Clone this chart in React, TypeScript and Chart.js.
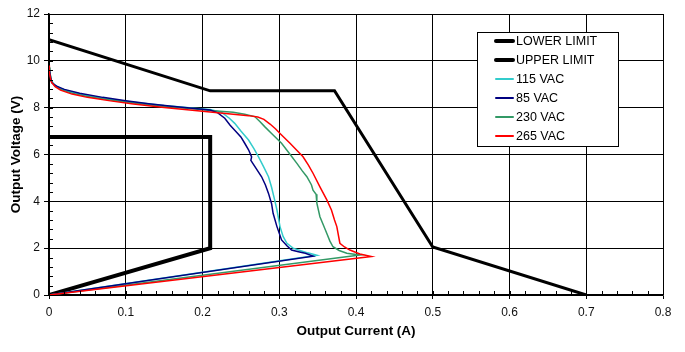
import React, { useEffect, useRef } from "react";
import { Chart, registerables } from "chart.js";

Chart.register(...registerables);

// Limit envelopes
const lowerLimitX = [0, 0.21, 0.21, 0];
const lowerLimitY = [0, 2.0, 6.75, 6.75];
const upperLimitX = [0, 0.21, 0.372, 0.5, 0.7];
const upperLimitY = [10.9, 8.72, 8.72, 2.05, 0];

// Measured curves
const vac115X = [0, 0.001, 0.003, 0.008, 0.015, 0.03, 0.05, 0.08, 0.11, 0.15, 0.19, 0.21, 0.225, 0.235, 0.242, 0.25, 0.26, 0.267, 0.273, 0.28, 0.286, 0.29, 0.294, 0.297, 0.301, 0.305, 0.31, 0.318, 0.325, 0.337, 0.349, 0];
const vac115Y = [9.72, 9.55, 9.15, 8.95, 8.82, 8.66, 8.52, 8.36, 8.23, 8.09, 7.98, 7.92, 7.8, 7.55, 7.33, 7.0, 6.62, 6.25, 5.9, 5.45, 5.05, 4.6, 4.06, 3.63, 2.92, 2.5, 2.21, 2.0, 1.92, 1.8, 1.7, 0];

const vac85X = [0, 0.002, 0.004, 0.01, 0.02, 0.04, 0.07, 0.1, 0.13, 0.16, 0.19, 0.21, 0.22, 0.229, 0.236, 0.242, 0.25, 0.255, 0.26, 0.264, 0.263, 0.27, 0.277, 0.282, 0.286, 0.29, 0.292, 0.297, 0.303, 0.31, 0.316, 0.325, 0.334, 0.344, 0];
const vac85Y = [9.72, 9.3, 9.05, 8.92, 8.78, 8.62, 8.44, 8.3, 8.17, 8.06, 7.96, 7.9, 7.78, 7.55, 7.25, 7.04, 6.75, 6.48, 6.2, 5.9, 5.75, 5.4, 5.05, 4.7, 4.34, 3.9, 3.49, 2.92, 2.35, 2.1, 1.92, 1.85, 1.78, 1.66, 0];

const vac230X = [0, 0.001, 0.003, 0.008, 0.015, 0.03, 0.05, 0.08, 0.11, 0.15, 0.19, 0.21, 0.24, 0.255, 0.268, 0.275, 0.281, 0.29, 0.303, 0.313, 0.323, 0.33, 0.336, 0.342, 0.344, 0.348, 0.349, 0.353, 0.358, 0.362, 0.366, 0.37, 0.378, 0.388, 0.405, 0];
const vac230Y = [9.72, 9.55, 9.12, 8.92, 8.78, 8.62, 8.48, 8.33, 8.2, 8.05, 7.94, 7.88, 7.8, 7.72, 7.62, 7.4, 7.19, 6.9, 6.48, 6.05, 5.62, 5.3, 5.05, 4.7, 4.48, 4.3, 3.92, 3.34, 2.95, 2.63, 2.3, 2.06, 1.9, 1.78, 1.71, 0];

const vac265X = [0, 0, 0.001, 0.003, 0.008, 0.015, 0.03, 0.05, 0.08, 0.11, 0.15, 0.19, 0.21, 0.24, 0.26, 0.272, 0.28, 0.288, 0.295, 0.301, 0.314, 0.331, 0.338, 0.344, 0.353, 0.362, 0.368, 0.372, 0.375, 0.379, 0.385, 0.392, 0.405, 0.42, 0];
const vac265Y = [9.8, 9.65, 9.5, 9.1, 8.9, 8.75, 8.58, 8.44, 8.29, 8.16, 8.01, 7.88, 7.82, 7.72, 7.66, 7.6, 7.5, 7.3, 7.1, 6.9, 6.48, 5.9, 5.55, 5.2, 4.62, 4.06, 3.63, 3.2, 2.92, 2.21, 2.05, 1.92, 1.75, 1.64, 0];

const xTickLabels = ["0", "0.1", "0.2", "0.3", "0.4", "0.5", "0.6", "0.7", "0.8"];
const yTickLabels = ["0", "2", "4", "6", "8", "10", "12"];

const FONT = "'Liberation Sans', Arial, sans-serif";

const pts = (xs: number[], ys: number[]) => xs.map((x, i) => ({ x, y: ys[i] }));

const minorTicks = {
  id: "minorTicks",
  afterDatasetsDraw(chart: any) {
    const { ctx } = chart;
    const xs = chart.scales.x;
    const ys = chart.scales.y;
    const ca = chart.chartArea;
    ctx.save();
    ctx.strokeStyle = "#000";
    ctx.lineWidth = 1;
    ctx.beginPath();
    for (let v = 0; v <= 0.8001; v += 0.02) {
      const px = Math.round(xs.getPixelForValue(v)) + 0.5;
      ctx.moveTo(px, ca.bottom);
      ctx.lineTo(px, ca.bottom - 4);
    }
    for (let v = 0; v <= 12.001; v += 0.4) {
      const py = Math.round(ys.getPixelForValue(v)) + 0.5;
      ctx.moveTo(ca.left, py);
      ctx.lineTo(ca.left + 4, py);
    }
    ctx.stroke();
    ctx.restore();
  },
};

const boxLegend = {
  id: "boxLegend",
  afterDraw(chart: any) {
    const { ctx } = chart;
    const ca = chart.chartArea;
    const left = ca.right - 186;
    const top = ca.top + 18;
    const w = 141;
    const h = 114;
    ctx.save();
    ctx.fillStyle = "#fff";
    ctx.fillRect(left, top, w, h);
    ctx.strokeStyle = "#000";
    ctx.lineWidth = 1;
    ctx.strokeRect(left + 0.5, top + 0.5, w, h);
    ctx.font = `12.5px ${FONT}`;
    ctx.textBaseline = "middle";
    ctx.textAlign = "left";
    chart.data.datasets.forEach((ds: any, i: number) => {
      const y = top + 9 + i * 19;
      ctx.strokeStyle = ds.borderColor;
      ctx.lineWidth = ds.legendWidth;
      ctx.lineCap = "round";
      ctx.beginPath();
      ctx.moveTo(left + 19, y);
      ctx.lineTo(left + 36, y);
      ctx.stroke();
      ctx.fillStyle = "#000";
      ctx.fillText(ds.label, left + 39, y + 0.5);
    });
    ctx.restore();
  },
};

export default function App() {
  const ref = useRef<HTMLCanvasElement>(null);
  useEffect(() => {
    if (!ref.current) return;
    const mk = (label: string, xs: number[], ys: number[], color: string, width: number, legendWidth: number, order: number) => ({
      label,
      data: pts(xs, ys),
      borderColor: color,
      backgroundColor: color,
      borderWidth: width,
      legendWidth,
      order,
      showLine: true,
      pointRadius: 0,
      fill: false,
      tension: 0,
      borderJoinStyle: "miter",
    });
    const chart = new Chart(ref.current, {
      type: "scatter",
      data: {
        datasets: [
          mk("LOWER LIMIT", lowerLimitX, lowerLimitY, "#000000", 4, 4, 4),
          mk("UPPER LIMIT", upperLimitX, upperLimitY, "#000000", 3, 4, 5),
          mk("115 VAC", vac115X, vac115Y, "#33CCCC", 1.5, 2, 3),
          mk("85 VAC", vac85X, vac85Y, "#000080", 1.5, 2, 1),
          mk("230 VAC", vac230X, vac230Y, "#339966", 1.5, 2, 2),
          mk("265 VAC", vac265X, vac265Y, "#FF0000", 1.5, 2, 0),
        ] as any,
      },
      options: {
        animation: false,
        responsive: false,
        layout: { padding: { top: 14, right: 22, left: 0, bottom: 0 } },
        plugins: { legend: { display: false }, tooltip: { enabled: false } },
        scales: {
          x: {
            type: "linear",
            min: 0,
            max: 0.8,
            afterFit: (s: any) => { s.height = 57; },
            ticks: {
              stepSize: 0.1,
              color: "#111",
              font: { family: FONT, size: 12 },
              padding: 6,
              maxRotation: 0,
              callback: (_v: any, i: number) => xTickLabels[i],
            },
            grid: { color: "#000", lineWidth: 1, tickLength: 4, drawTicks: true },
            border: { color: "#000", width: 1.5 },
            title: {
              display: true,
              text: "Output Current (A)",
              color: "#000",
              font: { family: FONT, size: 13.5, weight: "bold" },
              padding: { top: 0, bottom: 13 },
            },
          },
          y: {
            type: "linear",
            min: 0,
            max: 12,
            afterFit: (s: any) => { s.width = 49; },
            ticks: {
              stepSize: 2,
              color: "#111",
              font: { family: FONT, size: 12 },
              padding: 4,
              callback: (_v: any, i: number) => yTickLabels[i],
            },
            grid: { color: "#000", lineWidth: 1, tickLength: 5, drawTicks: true },
            border: { color: "#000", width: 1.5 },
            title: {
              display: true,
              text: "Output Voltage (V)",
              color: "#000",
              font: { family: FONT, size: 13.5, weight: "bold" },
              padding: { top: 8, bottom: 0 },
            },
          },
        },
      } as any,
      plugins: [minorTicks, boxLegend],
    });
    return () => chart.destroy();
  }, []);
  return (
    <div style={{ position: "absolute", left: 0, top: 0, width: 685, height: 352, background: "#fff" }}>
      <canvas ref={ref} width={685} height={352} style={{ display: "block" }} />
    </div>
  );
}
